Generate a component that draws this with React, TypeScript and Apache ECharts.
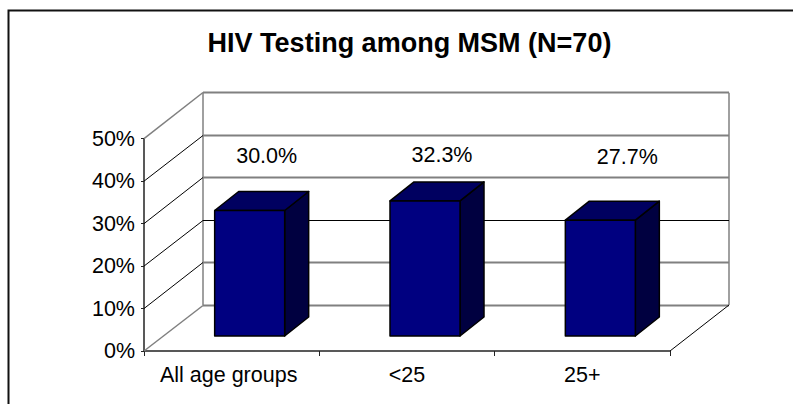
import React, { useEffect, useRef } from "react";
import * as echarts from "echarts";

const title = "HIV Testing among MSM (N=70)";
const categories = ["All age groups", "<25", "25+"];
const values = [30.0, 32.3, 27.7];
const ticks = [0, 10, 20, 30, 40, 50];

// oblique projection of the chart's depth, in pixels
const DEPTH_X = 59;
const DEPTH_Y = 46;
const BAR_FRONT_X = 18;
const BAR_FRONT_Y = 15;
const BAR_DEPTH_X = 24;
const BAR_DEPTH_Y = 19;
const BAR_WIDTH = 70;
const BAR_SCALE = 0.985;
const LABEL_DX = [35, 35, 45];
const LABEL_Y_ABOVE = [36, 27, 44];

const FONT = "'Liberation Sans', Arial, sans-serif";
const GRAY = "#808080";
const INK = "#000000";

function tickStyle(v: number) {
  const side =
    v === 0 || v === 50 ? { stroke: GRAY, lineWidth: 1.5 } : { stroke: INK, lineWidth: 1 };
  const back = v === 20 ? { stroke: INK, lineWidth: 1 } : { stroke: GRAY, lineWidth: 2 };
  return { back, side };
}

export default function App() {
  const ref = useRef<HTMLDivElement>(null);
  useEffect(() => {
    document.body.style.margin = "0";
    const chart = echarts.init(ref.current!, undefined, { renderer: "svg" });
    chart.setOption({
      animation: false,
      backgroundColor: "#ffffff",
      title: {
        text: title,
        left: 404.5,
        top: 24,
        textAlign: "center",
        textStyle: { fontFamily: FONT, fontSize: 27, fontWeight: "bold", color: "#000" },
      },
      grid: { left: 144, right: 123, top: 138.7, bottom: 53, containLabel: false },
      xAxis: {
        type: "category",
        data: categories,
        axisLine: { show: true, lineStyle: { color: "#222", width: 1.5 } },
        axisTick: { show: true, alignWithLabel: false, length: 5, lineStyle: { color: "#222", width: 1 } },
        axisLabel: {
          margin: 13,
          color: "#000",
          fontFamily: FONT,
          fontSize: 21.5,
          interval: 0,
          formatter: (v: string, i: number) => (i === 0 ? `{first|${v}}` : v),
          rich: {
            first: { fontFamily: FONT, fontSize: 21.5, color: "#000", padding: [0, 6, 0, 0] },
          },
        },
        splitLine: { show: false },
      },
      yAxis: {
        type: "value",
        min: 0,
        max: 50,
        interval: 10,
        axisLine: { show: true, lineStyle: { color: "#222", width: 1.5 } },
        axisTick: { show: true, length: 3, lineStyle: { color: "#222", width: 1 } },
        axisLabel: {
          margin: 9,
          color: "#000",
          fontFamily: FONT,
          fontSize: 21.5,
          formatter: (v: number) => `${v}%`,
        },
        splitLine: { show: false },
      },
      graphic: [
        {
          type: "polyline",
          silent: true,
          shape: { points: [[8.5, 404], [8.5, 10.5], [793, 10.5]] },
          style: { stroke: "#111", lineWidth: 2, fill: "none" },
        },
      ],
      series: [
        {
          type: "custom",
          silent: true,
          z: 1,
          data: ticks.map((v) => [0, v]),
          renderItem: (params: any, api: any) => {
            const v = api.value(1);
            const y = api.coord([0, v])[1];
            const cs = params.coordSys;
            const left = cs.x;
            const right = cs.x + cs.width;
            const st = tickStyle(v);
            // pixel-snapped so the thin back line stays crisp
            const backY = Math.floor(y - DEPTH_Y) + 0.5;
            const children: any[] = [
              {
                type: "line",
                shape: { x1: left, y1: y, x2: left + DEPTH_X, y2: backY },
                style: st.side,
              },
              {
                type: "line",
                shape: { x1: left + DEPTH_X, y1: backY, x2: right + DEPTH_X, y2: backY },
                style: st.back,
              },
            ];
            if (v === 0) {
              const top = api.coord([0, ticks[ticks.length - 1]])[1];
              children.push(
                {
                  type: "line",
                  shape: { x1: left + DEPTH_X, y1: y - DEPTH_Y, x2: left + DEPTH_X, y2: top - DEPTH_Y },
                  style: { stroke: GRAY, lineWidth: 1.5 },
                },
                {
                  type: "line",
                  shape: { x1: right + DEPTH_X, y1: y - DEPTH_Y, x2: right + DEPTH_X, y2: top - DEPTH_Y },
                  style: { stroke: GRAY, lineWidth: 1.5 },
                },
                {
                  type: "line",
                  shape: { x1: right, y1: y, x2: right + DEPTH_X, y2: y - DEPTH_Y },
                  style: { stroke: INK, lineWidth: 1 },
                }
              );
            }
            return { type: "group", children };
          },
        },
        {
          type: "custom",
          silent: true,
          z: 2,
          data: values.map((v, i) => [i, v]),
          renderItem: (params: any, api: any) => {
            const i = params.dataIndex;
            const v = api.value(1);
            const [cx, yTop] = api.coord([i, v]);
            const yBase = api.coord([i, 0])[1];
            const l = cx + BAR_FRONT_X - BAR_WIDTH / 2;
            const r = l + BAR_WIDTH;
            const b = yBase - BAR_FRONT_Y;
            const t = b - (yBase - yTop) * BAR_SCALE;
            const dx = BAR_DEPTH_X;
            const dy = BAR_DEPTH_Y;
            const edge = { stroke: "#000", lineWidth: 1.5, lineJoin: "round" };
            return {
              type: "group",
              children: [
                {
                  type: "polygon",
                  shape: { points: [[r, t], [r + dx, t - dy], [r + dx, b - dy], [r, b]] },
                  style: { fill: "#000040", ...edge },
                },
                {
                  type: "polygon",
                  shape: { points: [[l, t], [l + dx, t - dy], [r + dx, t - dy], [r, t]] },
                  style: { fill: "#000060", ...edge },
                },
                {
                  type: "rect",
                  shape: { x: l, y: t, width: BAR_WIDTH, height: b - t },
                  style: { fill: "#000080", ...edge },
                },
                {
                  type: "text",
                  x: cx + LABEL_DX[i],
                  y: t - dy - LABEL_Y_ABOVE[i],
                  style: {
                    text: `${v.toFixed(1)}%`,
                    fontFamily: FONT,
                    fontSize: 21.5,
                    fill: "#000",
                    align: "center",
                    verticalAlign: "middle",
                  },
                },
              ],
            };
          },
        },
      ],
    });
    return () => chart.dispose();
  }, []);
  return (
    <div
      ref={ref}
      style={{ position: "fixed", left: 0, top: 0, width: 793, height: 404 }}
    />
  );
}
